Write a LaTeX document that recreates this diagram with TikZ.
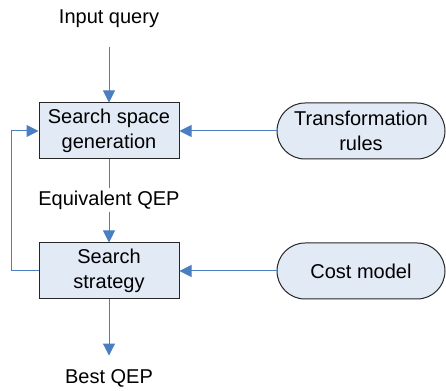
\documentclass[tikz,border=0pt]{standalone}
\usepackage{fontspec}
\setmainfont{Liberation Sans}
\usetikzlibrary{arrows.meta,shapes.misc}
\definecolor{flowblue}{RGB}{74,126,193}
\definecolor{boxfill}{RGB}{226,234,246}

\tikzset{
  proc/.style={draw=black!85, fill=boxfill, line width=0.75pt, minimum width=105pt,
    minimum height=42pt, inner sep=0pt, align=center, font=\fontsize{15}{18.75}\selectfont},
  src/.style={proc, rounded rectangle, minimum width=126pt},
  txt/.style={inner xsep=0pt, font=\fontsize{15}{18}\selectfont},
  flow/.style={draw=flowblue, line width=0.75pt, -{Triangle[width=9pt,length=9pt]}}
}

\begin{document}
\begin{tikzpicture}[x=0.75pt,y=-0.75pt]
\useasboundingbox (0,0) rectangle (446,391);
% boxes
\node[proc] (gen) at (109,131) {Search space\\generation};
\node[proc] (strat) at (109,271) {Search\\strategy};
\node[src] (rules) at (361,131) {Transformation\\rules};
\node[src] (cost) at (361,271) {Cost model};
% texts
\node[txt, inner ysep=14pt] (inq) at (109,19) {Input query};
\node[txt, inner ysep=2pt] (eqp) at (109,200) {Equivalent QEP};
\node[txt, inner ysep=10pt] (best) at (109,378) {Best QEP};
% connectors
\draw[flow] (inq) -- (gen);
\draw[draw=flowblue, line width=0.75pt] (gen) -- (eqp);
\draw[flow] (eqp) -- (strat);
\draw[flow] (strat) -- (best);
\draw[flow] (rules) -- (gen);
\draw[flow] (cost) -- (strat);
\draw[flow] (strat.west) -- ++(-27,0) |- (gen.west);
\end{tikzpicture}
\end{document}
